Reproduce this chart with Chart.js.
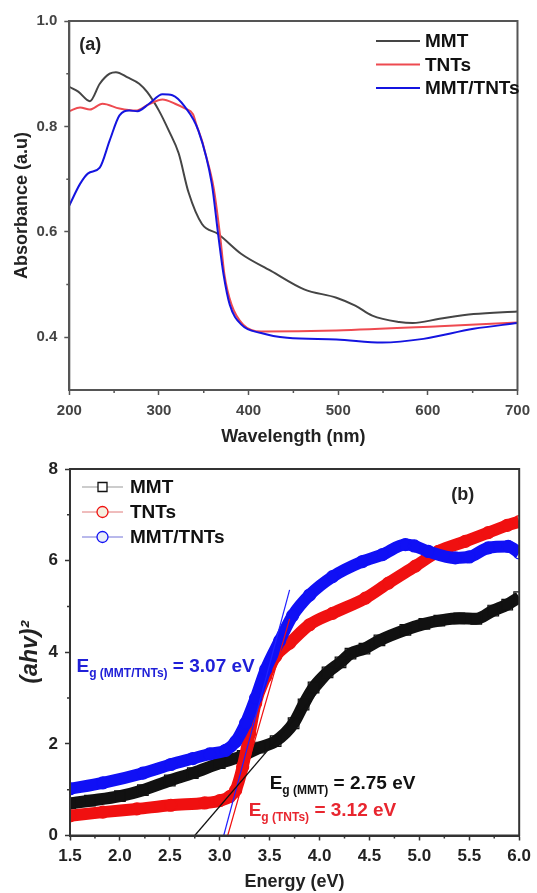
<!DOCTYPE html>
<html>
<head>
<meta charset="utf-8">
<script src="https://cdn.jsdelivr.net/npm/chart.js@4.4.0/dist/chart.umd.min.js"></script>
<style>
  html, body { margin: 0; padding: 0; background: #fff; }
  #wrap { position: relative; width: 537px; height: 893px; overflow: hidden; }
  canvas { position: absolute; left: 0; }
  #chartA { top: 0; }
  #chartB { top: 450px; }
</style>
</head>
<body>
<div id="wrap">
  <canvas id="chartA" width="537" height="448"></canvas>
  <canvas id="chartB" width="537" height="443"></canvas>
</div>
<script>
// ---- (a) UV-vis absorbance ----
var wlMMT  = [200, 210, 223, 234, 245, 252, 265, 278, 287, 300, 311, 322, 333, 348, 366, 392, 425, 462, 498, 519, 538, 568, 583, 613, 651, 700];
var absMMT = [0.875, 0.866, 0.848, 0.881, 0.900, 0.903, 0.893, 0.881, 0.865, 0.830, 0.792, 0.749, 0.675, 0.615, 0.596, 0.558, 0.526, 0.491, 0.475, 0.460, 0.441, 0.429, 0.427, 0.435, 0.444, 0.449];
var wlTNT  = [200, 212, 223, 237, 256, 274, 289, 304, 318, 329, 338, 342, 348, 351, 361, 368, 373, 381, 394, 414, 498, 613, 700];
var absTNT = [0.829, 0.836, 0.832, 0.843, 0.834, 0.830, 0.842, 0.851, 0.843, 0.834, 0.823, 0.802, 0.773, 0.754, 0.684, 0.596, 0.520, 0.462, 0.424, 0.411, 0.413, 0.421, 0.428];
var wlMix  = [200, 212, 221, 234, 245, 256, 267, 276, 289, 304, 315, 329, 344, 359, 366, 372, 379, 392, 414, 443, 498, 549, 595, 651, 700];
var absMix = [0.650, 0.691, 0.711, 0.722, 0.773, 0.821, 0.830, 0.829, 0.843, 0.861, 0.859, 0.837, 0.792, 0.691, 0.596, 0.520, 0.462, 0.424, 0.408, 0.399, 0.396, 0.390, 0.397, 0.416, 0.427];
var minorWlTicks  = [250, 350, 450, 550, 650];
var minorAbsTicks = [0.5, 0.7, 0.9];

// ---- (b) Tauc plot ----
var eMMT = [1.50, 1.70, 2.00, 2.23, 2.50, 2.73, 3.00, 3.23, 3.40, 3.56, 3.74, 3.84, 3.94, 4.08, 4.21, 4.31, 4.45, 4.60, 4.86, 5.05, 5.20, 5.40, 5.57, 5.74, 5.88, 6.00];
var vMMT = [0.70, 0.76, 0.86, 0.99, 1.20, 1.36, 1.58, 1.74, 1.92, 2.06, 2.45, 2.86, 3.23, 3.56, 3.78, 3.97, 4.08, 4.26, 4.49, 4.62, 4.69, 4.74, 4.73, 4.91, 5.04, 5.20];
var eTNT = [1.50, 1.83, 2.17, 2.51, 2.85, 3.00, 3.10, 3.16, 3.23, 3.30, 3.36, 3.46, 3.56, 3.70, 3.90, 4.13, 4.46, 4.69, 4.96, 5.19, 5.46, 5.69, 5.88, 6.00];
var vTNT = [0.43, 0.51, 0.58, 0.66, 0.71, 0.76, 0.85, 0.99, 1.50, 2.23, 2.89, 3.47, 3.91, 4.20, 4.60, 4.85, 5.18, 5.51, 5.88, 6.20, 6.42, 6.61, 6.77, 6.85];
var eMix = [1.50, 1.83, 2.23, 2.51, 2.73, 2.90, 3.06, 3.16, 3.26, 3.36, 3.46, 3.60, 3.73, 3.90, 4.13, 4.43, 4.63, 4.86, 4.95, 5.09, 5.36, 5.50, 5.69, 5.89, 6.00];
var vMix = [1.02, 1.15, 1.36, 1.55, 1.68, 1.78, 1.86, 2.05, 2.45, 3.00, 3.62, 4.25, 4.80, 5.25, 5.65, 5.98, 6.13, 6.35, 6.32, 6.20, 6.06, 6.08, 6.28, 6.31, 6.17];
// band gap fit lines (x-intercept -> end)
var fitMMT_E = [2.75, 4.31], fitMMT_V = [0, 3.97];
var fitTNT_E = [3.08, 3.70], fitTNT_V = [0, 4.73];
var fitMix_E = [3.04, 3.70], fitMix_V = [0, 5.36];
var minorETicks = [1.75, 2.25, 2.75, 3.25, 3.75, 4.25, 4.75, 5.25, 5.75];
var minorVTicks = [1, 3, 5, 7];

var FONT = "'Liberation Sans', Arial, sans-serif";
Chart.defaults.font.family = FONT;
Chart.defaults.font.weight = 'bold';

function pts(xs, ys) {
  return xs.map(function(x, i) { return {x: x, y: ys[i]}; });
}

// box around plot + short minor ticks
var frame = {
  id: 'frame',
  afterDraw: function(chart, args, o) {
    var ctx = chart.ctx, a = chart.chartArea;
    var xs = chart.scales.x, ys = chart.scales.y;
    ctx.save();
    ctx.strokeStyle = o.color;
    ctx.lineWidth = 2;
    ctx.strokeRect(a.left, a.top, a.right - a.left, a.bottom - a.top);
    ctx.lineWidth = 1.5;
    ctx.beginPath();
    o.xMinor.forEach(function(v) {
      var p = xs.getPixelForValue(v);
      ctx.moveTo(p, a.bottom); ctx.lineTo(p, a.bottom + 3);
    });
    o.yMinor.forEach(function(v) {
      var p = ys.getPixelForValue(v);
      ctx.moveTo(a.left, p); ctx.lineTo(a.left - 3, p);
    });
    ctx.stroke();
    ctx.restore();
  }
};

// legend drawn as line + marker + label
var lineLegend = {
  id: 'lineLegend',
  afterDraw: function(chart, args, o) {
    var ctx = chart.ctx;
    var items = chart.data.datasets.filter(function(d) { return !d.isFit; });
    ctx.save();
    ctx.font = 'bold ' + o.size + 'px ' + FONT;
    ctx.textBaseline = 'middle';
    items.forEach(function(d, i) {
      var y = o.y + i * o.dy;
      ctx.strokeStyle = o.lineColors ? o.lineColors[i] : d.borderColor;
      ctx.lineWidth = o.lineWidth;
      ctx.beginPath();
      ctx.moveTo(o.x1, y); ctx.lineTo(o.x2, y);
      ctx.stroke();
      if (o.markers) {
        var mx = (o.x1 + o.x2) / 2;
        ctx.fillStyle = o.markerFill[i];
        ctx.strokeStyle = d.pointBorderColor;
        ctx.lineWidth = 1.3;
        ctx.beginPath();
        if (d.pointStyle === 'rect') ctx.rect(mx - 4.5, y - 4.5, 9, 9);
        else ctx.arc(mx, y, 5.5, 0, Math.PI * 2);
        ctx.fill(); ctx.stroke();
      }
      ctx.fillStyle = '#111';
      ctx.fillText(d.label, o.textX, y + 1);
    });
    ctx.restore();
  }
};

// text notes placed at data coordinates; parts = [text, size, baseline shift]
var notes = {
  id: 'notes',
  afterDraw: function(chart, args, o) {
    var ctx = chart.ctx, xs = chart.scales.x, ys = chart.scales.y;
    ctx.save();
    ctx.textBaseline = 'alphabetic';
    o.items.forEach(function(it) {
      var x = xs.getPixelForValue(it.x), y = ys.getPixelForValue(it.y);
      ctx.fillStyle = it.color;
      it.parts.forEach(function(p) {
        ctx.font = 'bold ' + p[1] + 'px ' + FONT;
        ctx.fillText(p[0], x, y + p[2]);
        x += ctx.measureText(p[0]).width;
      });
    });
    ctx.restore();
  }
};

function axis(opts) {
  return Object.assign({
    type: 'linear',
    grid: { drawOnChartArea: false, drawTicks: true, tickLength: 5, tickWidth: 1.5, tickColor: opts.color },
    border: { display: true, color: opts.color, width: 2 }
  }, opts.rest);
}

// ---------- chart (a) ----------
var lineStyle = { fill: false, pointRadius: 0, borderWidth: 2, cubicInterpolationMode: 'monotone' };
new Chart(document.getElementById('chartA'), {
  type: 'line',
  data: {
    datasets: [
      Object.assign({ label: 'MMT', data: pts(wlMMT, absMMT), borderColor: '#454545', order: 2 }, lineStyle),
      Object.assign({ label: 'TNTs', data: pts(wlTNT, absTNT), borderColor: '#ee4a50', order: 1 }, lineStyle),
      Object.assign({ label: 'MMT/TNTs', data: pts(wlMix, absMix), borderColor: '#1414e0', order: 0 }, lineStyle)
    ]
  },
  options: {
    responsive: false,
    animation: false,
    layout: { padding: { left: 0, right: 13.5, top: 21, bottom: 0 } },
    plugins: {
      legend: { display: false },
      tooltip: { enabled: false },
      frame: { color: '#555', xMinor: minorWlTicks, yMinor: minorAbsTicks },
      lineLegend: { x1: 376, x2: 420, textX: 425, y: 41, dy: 23.5, size: 19, lineWidth: 2, markers: false },
      notes: { items: [ { x: 211, y: 0.945, color: '#222', parts: [['(a)', 18, 0]] } ] }
    },
    scales: {
      x: axis({ color: '#555', rest: {
        min: 200, max: 700,
        ticks: { stepSize: 100, padding: 7, color: '#444', font: { size: 15, weight: 'bold' } },
        title: { display: true, text: 'Wavelength (nm)', color: '#222', font: { size: 18, weight: 'bold' }, padding: { top: 0, bottom: 0 } },
        afterFit: function(s) { s.height = 58; }
      } }),
      y: axis({ color: '#555', rest: {
        min: 0.3, max: 1.0,
        ticks: { stepSize: 0.2, padding: 7, color: '#444', font: { size: 15, weight: 'bold' },
          callback: function(v) { return Math.round(v * 10) % 2 === 0 ? v.toFixed(1) : null; } },
        title: { display: true, text: 'Absorbance (a.u)', color: '#222', font: { size: 18, weight: 'bold' }, padding: { top: 11, bottom: 0 } },
        afterFit: function(s) { s.width = 69.3; }
      } })
    }
  },
  plugins: [frame, lineLegend, notes]
});

// ---------- chart (b) ----------
function bandSet(label, xs, ys, color, style, order) {
  return {
    label: label, data: pts(xs, ys), order: order,
    borderColor: color, borderWidth: 12, cubicInterpolationMode: 'monotone',
    pointStyle: style, pointRadius: style === 'rect' ? 7.5 : 6, pointHoverRadius: 6,
    pointBorderColor: color, pointBorderWidth: 1.2, pointBackgroundColor: 'rgba(255,255,255,0)'
  };
}
function fitSet(xs, ys, color) {
  return { label: 'fit', isFit: true, data: pts(xs, ys), order: -1, borderColor: color, borderWidth: 1.2, pointRadius: 0 };
}

new Chart(document.getElementById('chartB'), {
  type: 'line',
  data: {
    datasets: [
      bandSet('MMT', eMMT, vMMT, '#111', 'rect', 2),
      bandSet('TNTs', eTNT, vTNT, '#f01010', 'circle', 1),
      bandSet('MMT/TNTs', eMix, vMix, '#1010f5', 'circle', 0),
      fitSet(fitMMT_E, fitMMT_V, '#111'),
      fitSet(fitTNT_E, fitTNT_V, '#f01010'),
      fitSet(fitMix_E, fitMix_V, '#2020ff')
    ]
  },
  options: {
    responsive: false,
    animation: false,
    layout: { padding: { left: 0, right: 16, top: 19, bottom: 0 } },
    plugins: {
      legend: { display: false },
      tooltip: { enabled: false },
      frame: { color: '#333', xMinor: minorETicks, yMinor: minorVTicks },
      lineLegend: { x1: 82, x2: 123, textX: 130, y: 37, dy: 25, size: 19, lineWidth: 1,
        lineColors: ['#999', '#e07a7a', '#7272d8'], markers: true,
        markerFill: ['#fff', '#f4f0e0', '#e8ecf8'] },
      notes: { items: [
        { x: 5.32, y: 7.32, color: '#222', parts: [['(b)', 18, 0]] },
        { x: 1.565, y: 3.56, color: '#2020d8', parts: [['E', 19, 0], ['g (MMT/TNTs)', 12, 5], [' = 3.07 eV', 19, 0]] },
        { x: 3.50, y: 1.02, color: '#111', parts: [['E', 19, 0], ['g (MMT)', 12, 5], [' = 2.75 eV', 19, 0]] },
        { x: 3.29, y: 0.42, color: '#e8262f', parts: [['E', 19, 0], ['g (TNTs)', 12, 5], [' = 3.12 eV', 19, 0]] }
      ] }
    },
    scales: {
      x: axis({ color: '#333', rest: {
        min: 1.5, max: 6.0,
        ticks: { stepSize: 0.5, padding: 6, color: '#222', font: { size: 17, weight: 'bold' },
          callback: function(v) { return v.toFixed(1); } },
        title: { display: true, text: 'Energy (eV)', color: '#222', font: { size: 18, weight: 'bold' }, padding: { top: 0, bottom: 0 } },
        afterFit: function(s) { s.height = 57.5; }
      } }),
      y: axis({ color: '#333', rest: {
        min: 0, max: 8,
        ticks: { stepSize: 2, padding: 7, color: '#222', font: { size: 17, weight: 'bold' } },
        title: { display: true, text: '(ahv)\u00b2', color: '#222', font: { size: 23, weight: 'bold', style: 'italic' }, padding: { top: 17, bottom: 0 } },
        afterFit: function(s) { s.width = 70; }
      } })
    }
  },
  plugins: [frame, lineLegend, notes]
});
</script>
</body>
</html>
